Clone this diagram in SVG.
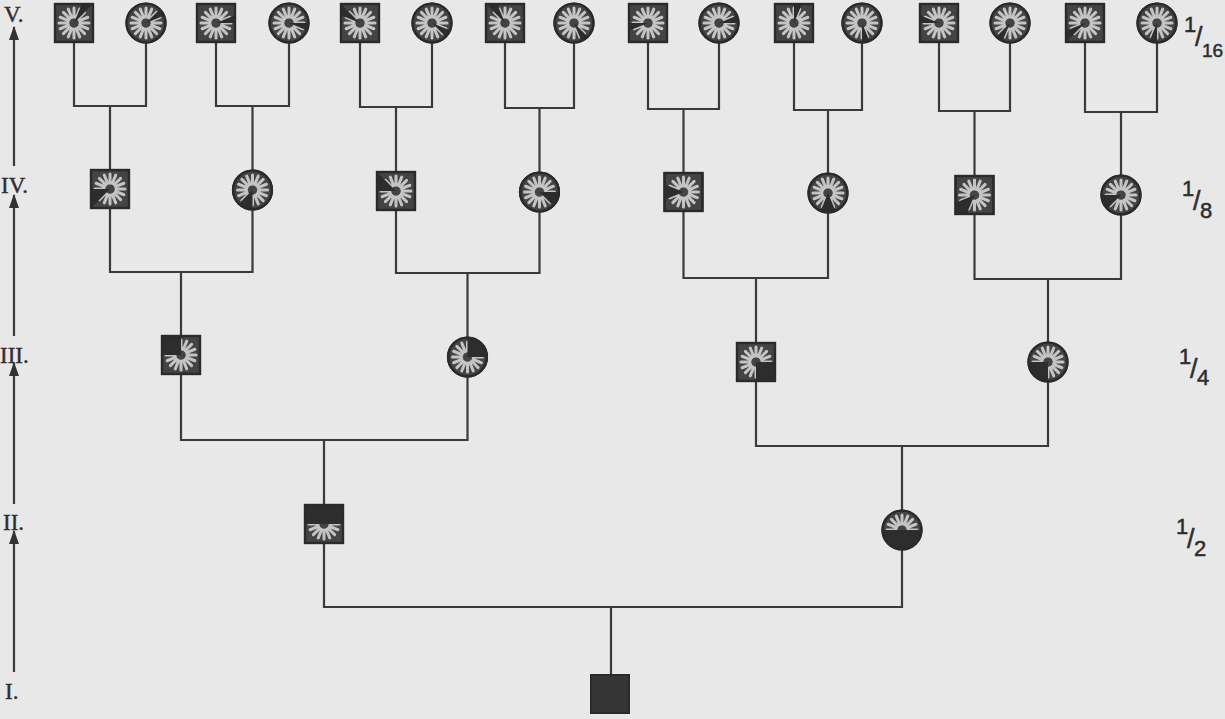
<svg xmlns="http://www.w3.org/2000/svg" width="1225" height="719" viewBox="0 0 1225 719">
<style>
.ln{fill:none;stroke:#3a3a3a;stroke-width:2.2}
.sp{fill:none;stroke:#c4c4c4;stroke-width:3;stroke-linecap:round}
.bd{fill:#444;stroke:#2a2a2a;stroke-width:2.2}
.ol{fill:none;stroke:#2a2a2a;stroke-width:2.2}
.dk{fill:#2d2d2d}
.rn{font-family:"Liberation Serif",serif;font-size:23px;fill:#2e2e2e;stroke:#2e2e2e;stroke-width:0.4}
.fr{font-family:"Liberation Sans",sans-serif;fill:#2e2e2e;stroke:#2e2e2e;stroke-width:0.5}
.ar{fill:none;stroke:#3a3a3a;stroke-width:2.2}
</style>
<defs>
<path id="spk" class="sp" d="M6 0L15 0M5.54 2.3L13.86 5.74M4.24 4.24L10.6 10.6M2.3 5.54L5.74 13.86M0 6L0 15M-2.3 5.54L-5.74 13.86M-4.24 4.24L-10.6 10.6M-5.54 2.3L-13.86 5.74M-6 0L-15 0M-5.54 -2.3L-13.86 -5.74M-4.24 -4.24L-10.6 -10.6M-2.3 -5.54L-5.74 -13.86M0 -6L0 -15M2.3 -5.54L5.74 -13.86M4.24 -4.24L10.6 -10.6M5.54 -2.3L13.86 -5.74"/>
<clipPath id="cs"><rect x="-19" y="-19" width="38" height="38"/></clipPath>
<clipPath id="cc"><circle r="19.5"/></clipPath>
<g id="sq"><rect class="bd" x="-19" y="-19" width="38" height="38"/><use href="#spk"/></g>
<g id="ci"><circle class="bd" r="19.5"/><use href="#spk"/></g>
<rect id="sqo" class="ol" x="-19" y="-19" width="38" height="38"/>
<circle id="cio" class="ol" r="19.5"/>
<marker id="ah" viewBox="0 0 14 10" refX="13" refY="5" markerWidth="14" markerHeight="10" markerUnits="userSpaceOnUse" orient="auto"><path d="M0 0L14 5L0 10Z" fill="#333"/></marker>
</defs>
<rect width="1225" height="719" fill="#e8e8e8"/>

<g id="connectors">
<path class="ln" d="M74 42V106H146V43M110 106V170"/>
<path class="ln" d="M216 42V106H289V43M252.5 106V171"/>
<path class="ln" d="M360 42V107H432V43M396 107V172"/>
<path class="ln" d="M505 42V108H574V43M539.5 108V173"/>
<path class="ln" d="M648 42V109H719V43M683.5 109V173"/>
<path class="ln" d="M794 42V110H862V43M828 110V174"/>
<path class="ln" d="M939 42V111H1010V43M974.5 111V176"/>
<path class="ln" d="M1085 42V112H1157V43M1121 112V176"/>
<path class="ln" d="M110 208V272H252.5V209M181 272V336"/>
<path class="ln" d="M396 210V273H539.5V211M467.5 273V338"/>
<path class="ln" d="M683.5 211V278H828V212M756 278V343"/>
<path class="ln" d="M974.5 214V279H1121V214M1048 279V342.5"/>
<path class="ln" d="M181 374V440H467.5V376.5M324 440V505"/>
<path class="ln" d="M756 381V446H1048V381.5M902 446V510.5"/>
<path class="ln" d="M324 543V607H902V549.5M611 607V675"/>
</g>

<g id="generation-axis">
<line class="ar" x1="14" y1="166" x2="14" y2="27" marker-end="url(#ah)"/>
<line class="ar" x1="14" y1="336" x2="14" y2="195" marker-end="url(#ah)"/>
<line class="ar" x1="14" y1="504" x2="14" y2="363" marker-end="url(#ah)"/>
<line class="ar" x1="14" y1="672" x2="14" y2="531" marker-end="url(#ah)"/>
<text class="rn" x="4" y="22">V.</text>
<text class="rn" x="1" y="193">IV.</text>
<text class="rn" x="0" y="363">III.</text>
<text class="rn" x="3" y="530">II.</text>
<text class="rn" x="5" y="699">I.</text>
</g>

<g id="fractions">
<text class="fr" font-size="22" x="1184" y="32">1</text>
<text class="fr" font-size="27" x="1195" y="46">/</text>
<text class="fr" font-size="19" x="1202" y="57">16</text>
<text class="fr" font-size="22" x="1182" y="196">1</text>
<text class="fr" font-size="27" x="1193" y="210">/</text>
<text class="fr" font-size="22" x="1200" y="218">8</text>
<text class="fr" font-size="22" x="1179" y="364">1</text>
<text class="fr" font-size="27" x="1190" y="378">/</text>
<text class="fr" font-size="22" x="1197" y="385">4</text>
<text class="fr" font-size="22" x="1176" y="534">1</text>
<text class="fr" font-size="27" x="1187" y="548">/</text>
<text class="fr" font-size="22" x="1194" y="556">2</text>
</g>

<!-- Generation V -->
<g id="v1" transform="translate(74,23)"><use href="#sq"/><path class="dk" clip-path="url(#cs)" d="M0 0L15.3 -37L28.3 -28.3Z"/><use href="#sqo"/></g>
<g id="v2" transform="translate(146,23)"><use href="#ci"/><path class="dk" clip-path="url(#cc)" d="M0 0L28.3 -28.3L37 -15.3Z"/><use href="#cio"/></g>
<g id="v3" transform="translate(216,23)"><use href="#sq"/><path class="dk" clip-path="url(#cs)" d="M0 0L37 -15.3L40 0Z"/><use href="#sqo"/></g>
<g id="v4" transform="translate(289,23)"><use href="#ci"/><path class="dk" clip-path="url(#cc)" d="M0 0L40 0L37 15.3Z"/><use href="#cio"/></g>
<g id="v5" transform="translate(360,23)"><use href="#sq"/><path class="dk" clip-path="url(#cs)" d="M0 0L-37 -15.3L-28.3 -28.3Z"/><use href="#sqo"/></g>
<g id="v6" transform="translate(432,23)"><use href="#ci"/><path class="dk" clip-path="url(#cc)" d="M0 0L37 15.3L28.3 28.3Z"/><use href="#cio"/></g>
<g id="v7" transform="translate(505,23)"><use href="#sq"/><path class="dk" clip-path="url(#cs)" d="M0 0L-28.3 -28.3L-15.3 -37Z"/><use href="#sqo"/></g>
<g id="v8" transform="translate(574,23)"><use href="#ci"/><path class="dk" clip-path="url(#cc)" d="M0 0L28.3 28.3L15.3 37Z"/><use href="#cio"/></g>
<g id="v9" transform="translate(648,23)"><use href="#sq"/><path class="dk" clip-path="url(#cs)" d="M0 0L-37 15.3L-40 0Z"/><use href="#sqo"/></g>
<g id="v10" transform="translate(719,23)"><use href="#ci"/><path class="dk" clip-path="url(#cc)" d="M0 0L37 -15.3L40 0Z"/><use href="#cio"/></g>
<g id="v11" transform="translate(794,23)"><use href="#sq"/><path class="dk" clip-path="url(#cs)" d="M0 0L0 -40L15.3 -37Z"/><use href="#sqo"/></g>
<g id="v12" transform="translate(862,23)"><use href="#ci"/><path class="dk" clip-path="url(#cc)" d="M0 0L15.3 37L0 40Z"/><use href="#cio"/></g>
<g id="v13" transform="translate(939,23)"><use href="#sq"/><path class="dk" clip-path="url(#cs)" d="M0 0L-40 0L-37 -15.3Z"/><use href="#sqo"/></g>
<g id="v14" transform="translate(1010,23)"><use href="#ci"/><path class="dk" clip-path="url(#cc)" d="M0 0L-15.3 37L-28.3 28.3Z"/><use href="#cio"/></g>
<g id="v15" transform="translate(1085,23)"><use href="#sq"/><path class="dk" clip-path="url(#cs)" d="M0 0L-28.3 28.3L-37 15.3Z"/><use href="#sqo"/></g>
<g id="v16" transform="translate(1157,23)"><use href="#ci"/><path class="dk" clip-path="url(#cc)" d="M0 0L0 40L-15.3 37Z"/><use href="#cio"/></g>

<!-- Generation IV -->
<g id="iv1" transform="translate(110,189)"><use href="#sq"/><path class="dk" clip-path="url(#cs)" d="M0 0L-28.3 28.3L-40 0Z"/><use href="#sqo"/></g>
<g id="iv2" transform="translate(252.5,190)"><use href="#ci"/><path class="dk" clip-path="url(#cc)" d="M0 0L0 40L-28.3 28.3Z"/><use href="#cio"/></g>
<g id="iv3" transform="translate(396,191)"><use href="#sq"/><path class="dk" clip-path="url(#cs)" d="M0 0L-40 0L-28.3 -28.3Z"/><use href="#sqo"/></g>
<g id="iv4" transform="translate(539.5,192)"><use href="#ci"/><path class="dk" clip-path="url(#cc)" d="M0 0L40 0L28.3 28.3Z"/><use href="#cio"/></g>
<g id="iv5" transform="translate(683.5,192)"><use href="#sq"/><path class="dk" clip-path="url(#cs)" d="M0 0L-37 15.3L-37 -15.3Z"/><use href="#sqo"/></g>
<g id="iv6" transform="translate(828,193)"><use href="#ci"/><path class="dk" clip-path="url(#cc)" d="M0 0L15.3 37L-15.3 37Z"/><use href="#cio"/></g>
<g id="iv7" transform="translate(974.5,195)"><use href="#sq"/><path class="dk" clip-path="url(#cs)" d="M0 0L-15.3 37L-37 15.3Z"/><use href="#sqo"/></g>
<g id="iv8" transform="translate(1121,195)"><use href="#ci"/><path class="dk" clip-path="url(#cc)" d="M0 0L-28.3 28.3L-40 0Z"/><use href="#cio"/></g>

<!-- Generation III -->
<g id="iii1" transform="translate(181,355)"><use href="#sq"/><path class="dk" clip-path="url(#cs)" d="M0 0L-40 0L-28.3 -28.3L0 -40Z"/><use href="#sqo"/></g>
<g id="iii2" transform="translate(467.5,357)"><use href="#ci"/><path class="dk" clip-path="url(#cc)" d="M0 0L0 -40L28.3 -28.3L40 0Z"/><use href="#cio"/></g>
<g id="iii3" transform="translate(756,362)"><use href="#sq"/><path class="dk" clip-path="url(#cs)" d="M0 0L40 0L28.3 28.3L0 40Z"/><use href="#sqo"/></g>
<g id="iii4" transform="translate(1048,362)"><use href="#ci"/><path class="dk" clip-path="url(#cc)" d="M0 0L0 40L-28.3 28.3L-40 0Z"/><use href="#cio"/></g>

<!-- Generation II -->
<g id="ii1" transform="translate(324,524)"><use href="#sq"/><path class="dk" clip-path="url(#cs)" d="M0 0L-40 0L-28.3 -28.3L0 -40L28.3 -28.3L40 0Z"/><use href="#sqo"/></g>
<g id="ii2" transform="translate(902,530)"><use href="#ci"/><path class="dk" clip-path="url(#cc)" d="M0 0L40 0L28.3 28.3L0 40L-28.3 28.3L-40 0Z"/><use href="#cio"/></g>

<!-- Generation I -->
<g id="i1" transform="translate(610,694)"><rect x="-19" y="-19" width="38" height="38" fill="#353535" stroke="#2a2a2a" stroke-width="2"/></g>
</svg>
